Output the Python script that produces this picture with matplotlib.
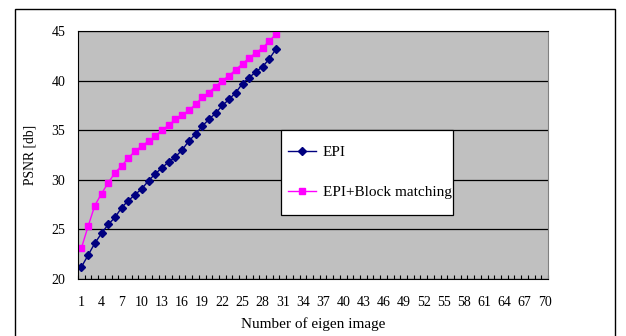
import matplotlib
matplotlib.use("Agg")
import matplotlib.pyplot as plt
from matplotlib.patches import Rectangle
from matplotlib.ticker import MultipleLocator, FixedLocator

plt.rcParams['font.family'] = ['Liberation Serif', 'DejaVu Serif']

# eigen image count 1..30
n_eigen = list(range(1, 31))
epi = [21.2, 22.4, 23.6, 24.6, 25.5, 26.2, 27.2, 27.9, 28.5, 29.1,
       29.9, 30.6, 31.2, 31.8, 32.3, 33.0, 33.9, 34.6, 35.4, 36.1,
       36.7, 37.5, 38.1, 38.8, 39.7, 40.3, 40.9, 41.4, 42.2, 43.2]
epi_block = [23.1, 25.3, 27.4, 28.6, 29.7, 30.7, 31.4, 32.2, 32.9, 33.4,
             33.9, 34.4, 35.0, 35.5, 36.1, 36.5, 37.0, 37.6, 38.3, 38.8,
             39.4, 40.0, 40.5, 41.1, 41.7, 42.3, 42.8, 43.3, 44.0, 44.7]
x_ticks = list(range(1, 71, 3))

fig = plt.figure(figsize=(6.26, 3.36), dpi=100)
ax = fig.add_axes([78/626, 1-279/336, 470/626, 248/336])
ax.set_facecolor('#c0c0c0')

ax.plot(n_eigen, epi, color='#000080', lw=1, marker='D', ms=4, label='EPI')
ax.plot(n_eigen, epi_block, color='#ff00ff', lw=1, marker='s', ms=4.5,
        label='EPI+Block matching')

ax.set_xlim(0.5, 70.5)
ax.set_ylim(20, 45)
ax.yaxis.set_major_locator(MultipleLocator(5))
ax.grid(axis='y', color='black', lw=0.9)
ax.set_axisbelow(True)

ax.xaxis.set_major_locator(FixedLocator(x_ticks))
ax.xaxis.set_minor_locator(FixedLocator([i + 0.5 for i in range(0, 71)]))
ax.tick_params(axis='x', which='major', length=0, pad=12, labelsize=10)
ax.tick_params(axis='x', which='minor', direction='in', length=3, width=0.8)
ax.tick_params(axis='y', length=0, pad=9, labelsize=10)

for s in ['left', 'bottom', 'top']:
    ax.spines[s].set_color('black')
ax.spines['right'].set_color('#808080')

ax.set_xlabel('Number of eigen image', fontsize=11, labelpad=6)
ax.set_ylabel('PSNR [db]', fontsize=9.8, labelpad=11)

# legend box
ax.add_patch(Rectangle((0.432, 0.258), 0.366, 0.343, transform=ax.transAxes,
                       facecolor='white', edgecolor='black', lw=0.9, zorder=5))
leg = ax.legend(loc='upper left', bbox_to_anchor=(0.431, 0.568), frameon=False,
                borderpad=0, labelspacing=1.7, handlelength=1.85,
                handletextpad=0.4, numpoints=1, fontsize=11)
leg.set_zorder(6)

# outer chart border
fig.add_artist(Rectangle((15/626, -0.05), 600/626, 1.05 - 9/336,
                         transform=fig.transFigure, fill=False,
                         edgecolor='black', lw=1, clip_on=False))

fig.savefig('out.png', dpi=100)
